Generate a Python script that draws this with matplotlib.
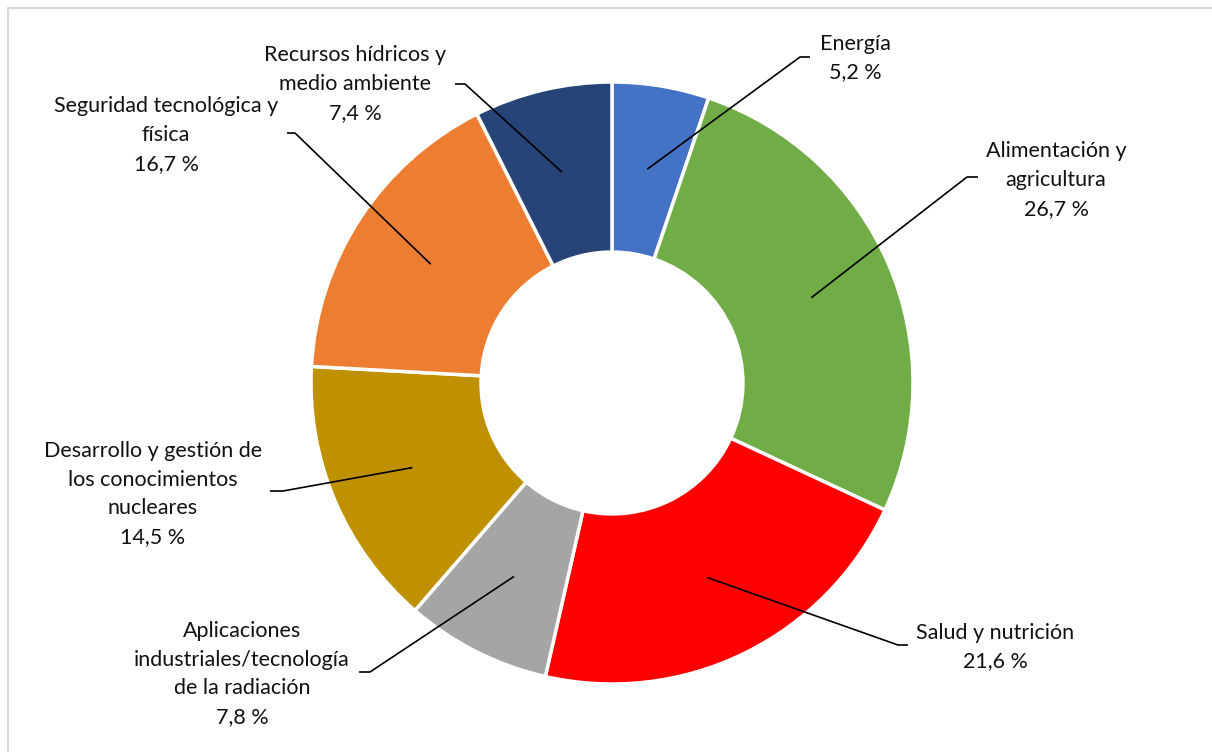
import numpy as np
import matplotlib.pyplot as plt
from matplotlib.patches import Rectangle

W, H = 1212, 752

areas = ["Energía", "Alimentación y\nagricultura", "Salud y nutrición",
         "Aplicaciones\nindustriales/tecnología\nde la radiación",
         "Desarrollo y gestión de\nlos conocimientos\nnucleares",
         "Seguridad tecnológica y\nfísica", "Recursos hídricos y\nmedio ambiente"]
porcentajes = [5.2, 26.7, 21.6, 7.8, 14.5, 16.7, 7.4]
colores = ["#4472C4", "#70AD47", "#FF0000", "#A5A5A5", "#BF9000", "#ED7D31", "#264478"]

# centro del bloque de texto y codo de la línea guía, en píxeles desde arriba
pos_texto = [(855, 58), (1056, 180), (995, 647), (242, 674), (153, 494), (166, 135), (355, 84)]
codos = [((800, 57), (810, 57)), ((967, 177), (978, 177)), ((898, 645), (908, 645)),
         ((370, 672), (359, 672)), ((283, 491), (270, 491)), ((295, 133), (287, 133)),
         ((465, 84), (455, 84))]

plt.rcParams['font.family'] = ['Lato', 'DejaVu Sans']

fig = plt.figure(figsize=(W / 100, H / 100), dpi=100)
ax = fig.add_axes([0, 0, 1, 1])

cx, cy, R = 612, H - 383, 301
ax.pie(porcentajes, colors=colores, startangle=90, counterclock=False,
       center=(cx, cy), radius=R,
       wedgeprops=dict(width=R * 0.565, edgecolor='white', linewidth=2.5))
ax.set_xlim(0, W)
ax.set_ylim(0, H)
ax.set_aspect('auto')
ax.axis('off')

# marco del gráfico
ax.add_patch(Rectangle((7.5, -20), W + 20, H - 7.5 + 20, fill=False,
                       edgecolor='#D9D9D9', linewidth=1.5))

total = sum(porcentajes)
acum = 0
for nombre, p, (tx, ty), (codo, fin) in zip(areas, porcentajes, pos_texto, codos):
    medio = (acum + p / 2) / total * 2 * np.pi
    acum += p
    px = cx + 0.72 * R * np.sin(medio)
    py = cy + 0.72 * R * np.cos(medio)
    ax.plot([px, codo[0], fin[0]], [py, H - codo[1], H - fin[1]],
            color='black', lw=1.2, solid_capstyle='butt')
    etiqueta = f"{nombre}\n{str(p).replace('.', ',')} %"
    ax.text(tx, H - ty, etiqueta, ha='center', va='center', fontsize=15.5,
            linespacing=1.55, color='#111111', multialignment='center')

fig.savefig("out.png", dpi=100)
